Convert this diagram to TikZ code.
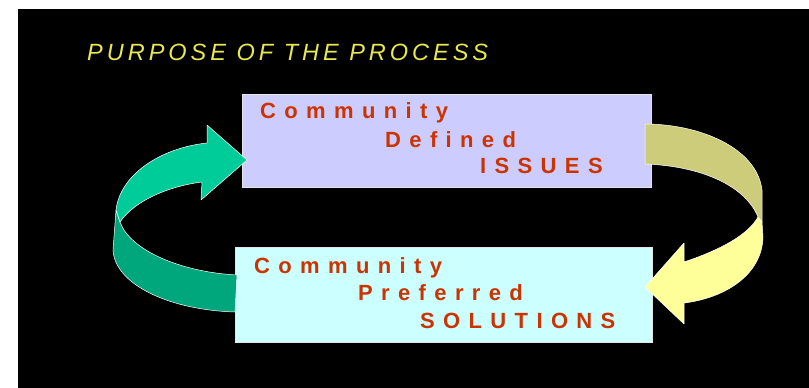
\documentclass[tikz,border=0pt]{standalone}
\usepackage{fontspec}
\setmainfont{Liberation Sans}
\newfontfamily\boxfont[LetterSpace=38]{Liberation Sans}
\newfontfamily\titlefont[LetterSpace=17]{Liberation Sans}
\definecolor{lav}{RGB}{204,204,255}
\definecolor{pale}{RGB}{204,255,255}
\definecolor{txtred}{RGB}{204,51,0}
\definecolor{ttlyel}{RGB}{232,232,80}
\definecolor{ltgreen}{RGB}{0,204,153}
\definecolor{dkgreen}{RGB}{0,166,124}
\definecolor{olive}{RGB}{204,204,122}
\definecolor{lemon}{RGB}{255,255,153}
\tikzset{
  panel/.style={draw=white!80!gray, line width=0.6pt, inner sep=0pt, anchor=north west},
  word/.style={anchor=base west, inner sep=0pt, text=txtred,
    font=\boxfont\bfseries\fontsize{22}{22}\selectfont},
  band/.style={draw=white, line width=0.5pt, line join=round},
}
\begin{document}
\begin{tikzpicture}[x=1pt,y=-1pt]
  \fill[white] (0,0) rectangle (809,388);
  \useasboundingbox (0,0) rectangle (809,388);
  \fill[black] (18,9) rectangle (809,388);
  \node[anchor=base west, inner sep=0pt, text=ttlyel,
    font=\titlefont\itshape\fontsize{23.5}{24}\selectfont] (title) at (87,60) {PURPOSE OF THE PROCESS};
  % the two boxes
  \node[panel, fill=lav, minimum width=409pt, minimum height=93pt] (issues) at (242,94) {};
  \node[panel, fill=pale, minimum width=417pt, minimum height=95pt] (solutions) at (235,247) {};
  \node[word] (c1) at (260,118) {Community};
  \node[word] (d1) at (385,147) {Defined};
  \node[word] (i1) at (480,173) {ISSUES};
  \node[word] (c2) at (254,273) {Community};
  \node[word] (p2) at (358,300) {Preferred};
  \node[word] (s2) at (420,328) {SOLUTIONS};
  % green arrow, back face then front face
  \filldraw[band, fill=dkgreen] (116,210) -- (113,250) .. controls (115,285) and (170,310) .. (235,312)
    -- (237,275) .. controls (180,272) and (130,250) .. (120,222) -- cycle;
  \filldraw[band, fill=ltgreen] (247,160) -- (207,125) -- (207,143) .. controls (160,148) and (120,175) .. (116,210)
    -- (120,222) .. controls (135,200) and (170,186) .. (202,182) -- (201,200) -- cycle;
  % yellow arrow
  \filldraw[band, fill=olive] (645,124) .. controls (700,124) and (757,148) .. (762,190) -- (762,222)
    -- (758,217) .. controls (745,185) and (700,166) .. (645,164) -- cycle;
  \filldraw[band, fill=lemon] (645,287) -- (684,243) -- (684,262) .. controls (720,250) and (748,235) .. (758,217)
    -- (762,222) -- (763,237) .. controls (762,275) and (725,298) .. (684,303) -- (684,324) -- cycle;
\end{tikzpicture}
\end{document}
